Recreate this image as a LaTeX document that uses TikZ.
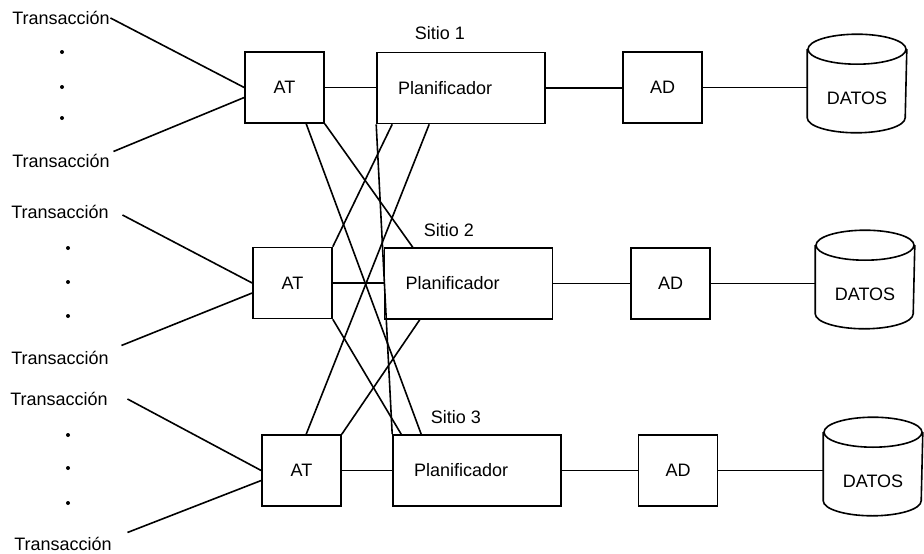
\documentclass[tikz,border=0pt]{standalone}
\usepackage{fontspec}
\setmainfont{Liberation Sans}
\usetikzlibrary{calc}
\begin{document}
\begin{tikzpicture}[x=1pt,y=-1pt, line width=1.6pt,
  every node/.style={font=\fontsize{18}{20}\selectfont, inner sep=0pt},
  box/.style={draw, minimum width=79pt, minimum height=71pt},
  planbox/.style={draw, minimum width=168pt, minimum height=71pt, text width=126pt, align=left},
  db/.style={minimum width=98pt, minimum height=67pt},
  dot/.style={circle, fill, minimum size=4pt},
  lbl/.style={}
]
\useasboundingbox (0,0) rectangle (924,554);

% Row 1
\node[box] (AT1) at (284.5,87.5) {AT};
\node[planbox] (P1) at (461,88) {Planificador};
\node[box] (AD1) at (662.5,87.5) {AD};
\node[db] (DB1) at (857,98.5) {DATOS};
\node[lbl] (S1) at (440,33) {Sitio 1};

% Row 2
\node[box] (AT2) at (292.5,283) {AT};
\node[planbox] (P2) at (468.5,283.5) {Planificador};
\node[box] (AD2) at (670.5,283.5) {AD};
\node[db] (DB2) at (865,294.5) {DATOS};
\node[lbl] (S2) at (449,230) {Sitio 2};

% Row 3
\node[box] (AT3) at (301.5,470.5) {AT};
\node[planbox] (P3) at (477,470.5) {Planificador};
\node[box] (AD3) at (678,470.5) {AD};
\node[db] (DB3) at (873,481.5) {DATOS};
\node[lbl] (S3) at (456,417) {Sitio 3};

% cylinders
\foreach \d in {DB1,DB2,DB3} {
  \draw ([yshift=15pt]\d.north) ellipse [x radius=49pt, y radius=15pt];
  \draw ([yshift=15pt]\d.north west) -- ([yshift=15pt]\d.south west)
        arc[start angle=180, end angle=360, x radius=49pt, y radius=15pt]
        -- ([yshift=15pt]\d.north east);
}

% horizontal connectors
\foreach \r in {1,2,3} {
  \draw (AT\r.east) -- (AT\r.east -| P\r.west);
  \draw (P\r.east) -- (P\r.east -| AD\r.west);
  \draw (AD\r.east) -- (AD\r.east -| DB\r.west);
}

% cross connectors
\draw ($(AT1.south west)+(62,0)$) -- ($(P3.north west)+(29,0)$);
\draw (AT1.south east) -- ($(P2.north west)+(29,0)$);
\draw ($(P1.south west)+(16,0)$) -- (AT2.north east);
\draw ($(P1.south west)+(53,0)$) -- ($(AT3.north west)+(45,0)$);
\draw (AT2.south east) -- ($(P3.north west)+(9,0)$);
\draw ($(P2.south west)+(36,0)$) -- (AT3.north east);
\draw (P1.south west) -- (P3.north west);

% transactions
\node[lbl] (T1a) at (61,18) {Transacción};
\node[lbl] (T1b) at (61,161) {Transacción};
\node[lbl] (T2a) at (60,212) {Transacción};
\node[lbl] (T2b) at (60,358) {Transacción};
\node[lbl] (T3a) at (59,399) {Transacción};
\node[lbl] (T3b) at (63,544) {Transacción};

\node[dot] (d11) at (62,52) {};
\node[dot] (d12) at (62,87) {};
\node[dot] (d13) at (62,118) {};
\node[dot] (d21) at (68,248) {};
\node[dot] (d22) at (68,282) {};
\node[dot] (d23) at (68,316) {};
\node[dot] (d31) at (68,435) {};
\node[dot] (d32) at (68,468) {};
\node[dot] (d33) at (68,503) {};

\draw (T1a.east) -- (AT1.west);
\draw ($(T1b.north east)+(3,-2)$) -- ($(AT1.west)+(0,10)$);
\draw ($(T2a.east)+(13,3)$) -- (AT2.west);
\draw ($(T2b.north east)+(12,-5)$) -- ($(AT2.west)+(0,10)$);
\draw ($(T3a.east)+(19,0)$) -- (AT3.west);
\draw ($(T3b.north east)+(15,-4)$) -- ($(AT3.west)+(0,10)$);
\end{tikzpicture}
\end{document}
